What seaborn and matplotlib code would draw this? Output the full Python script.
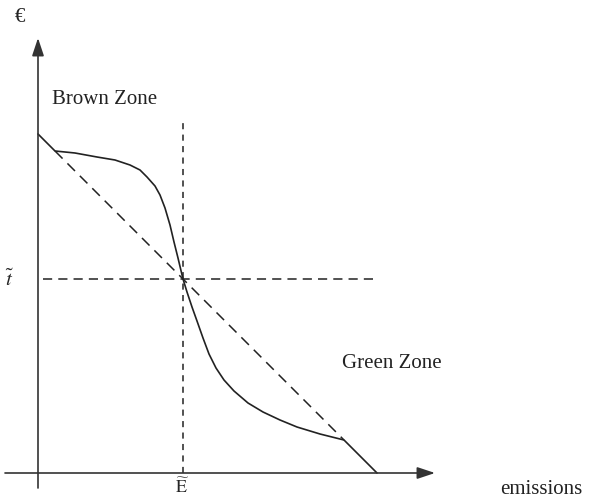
import matplotlib as mpl
import matplotlib.pyplot as plt
import seaborn as sns
import pandas as pd

sns.set_theme(style="white")
plt.rcParams['font.family'] = ['Liberation Serif', 'DejaVu Serif']
mpl.rcParams['mathtext.fontset'] = 'stix'

# curve (emissions, price) in pixel-like units
curve_x = [0, 17, 37, 59, 77, 92, 102, 109, 117, 122, 127, 132, 136, 140, 145,
           149, 154, 159, 165, 171, 178, 186, 196, 210, 225, 242, 259, 282, 306, 339]
curve_y = [339, 322, 320, 316, 313, 308, 303, 296, 287, 278, 265, 248, 231, 215, 194,
           181, 166, 152, 135, 119, 105, 93, 82, 70, 61, 53, 46, 39, 33, 0]

# straight dashed reference line
diag_x = [17, 306]
diag_y = [322, 33]

# threshold (E~, t~)
e_tilde = 145
t_tilde = 194

curve_df = pd.DataFrame({"emissions": curve_x, "price": curve_y})

fig = plt.figure(figsize=(5.89, 5.00), dpi=100)
ax = fig.add_axes([0, 0, 1, 1])
ax.set_xlim(-38, 551)
ax.set_ylim(-27, 473)
ax.axis("off")

sns.lineplot(data=curve_df, x="emissions", y="price", sort=False, color="#222222",
             linewidth=1.2, ax=ax, estimator=None)
ax.lines[-1].set_solid_joinstyle("round")
ax.plot(diag_x, diag_y, color="#222222", linewidth=1.1, dashes=(7, 4.5))
ax.plot([5, 340], [t_tilde, t_tilde], color="#222222", linewidth=1.1, dashes=(6, 4))
ax.plot([e_tilde, e_tilde], [0, 355], color="#222222", linewidth=1.1, dashes=(4, 3.5))

# axes with arrow heads
arrow = dict(arrowstyle="-|>,head_length=0.9,head_width=0.3", color="#333333",
             linewidth=1.2, shrinkA=0, shrinkB=0)
ax.annotate("", xy=(397, 0), xytext=(-33, 0), arrowprops=arrow)
ax.annotate("", xy=(0, 435), xytext=(0, -15), arrowprops=arrow)

ax.text(-18, 455, "€", fontsize=15, ha="center", va="center")
ax.text(14, 373, "Brown Zone", fontsize=15, ha="left", va="center", color="#222222")
ax.text(304, 110, "Green Zone", fontsize=15, ha="left", va="center", color="#222222")
ax.text(462, -17, "emissions", fontsize=15, ha="left", va="center", color="#222222")
ax.text(-28, 193, r"$\tilde{t}$", fontsize=15, ha="center", va="center")
ax.text(e_tilde - 1, -14, r"$\widetilde{\mathrm{E}}$", fontsize=13, ha="center", va="center")

plt.savefig("out.png", dpi=100)
